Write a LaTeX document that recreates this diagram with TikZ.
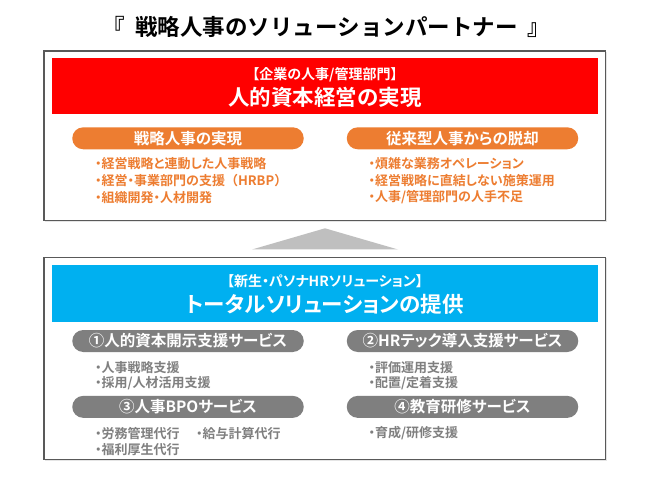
\documentclass[tikz,border=0pt]{standalone}
\usepackage{fontspec}
\setmainfont{Noto Sans CJK JP}[BoldFont={Noto Sans CJK JP Bold}, RawFeature=+palt]
\newfontfamily\jpfull{Noto Sans CJK JP}[BoldFont={Noto Sans CJK JP Bold}]
\usetikzlibrary{shadows}
\definecolor{rd}{HTML}{FF0000}
\definecolor{og}{HTML}{ED7D31}
\definecolor{cy}{HTML}{00B0F0}
\definecolor{gy}{HTML}{7F7F7F}
\definecolor{tri}{HTML}{BFBFBF}
\definecolor{frm}{HTML}{595959}
\newcommand\dt{\makebox[0.5em][c]{・}}
\tikzset{
  outerbox/.style={draw=frm, line width=1.2pt, fill=white, rectangle, inner sep=0,
    drop shadow={shadow xshift=1pt, shadow yshift=-1.2pt, fill=black!20}},
  banner/.style={rectangle, inner sep=0, draw=none},
  pillbox/.style={rectangle, rounded corners=11pt, inner sep=0, minimum width=231.5pt, minimum height=22pt, draw=none},
  bansmall/.style={inner sep=0, text=white, font=\bfseries\fontsize{14}{14}\selectfont},
  banbig/.style={inner sep=0, text=white, font=\bfseries\fontsize{21.5}{22}\selectfont},
  pilltxt/.style={inner sep=0, text=white, font=\bfseries\fontsize{15.5}{15}\selectfont},
  otxt/.style={inner sep=0, anchor=west, text=og, font=\bfseries\fontsize{13}{13}\selectfont},
  gtxt/.style={inner sep=0, anchor=west, text=gy, font=\bfseries\fontsize{13}{13}\selectfont},
}
\begin{document}
\begin{tikzpicture}[x=1pt,y=-1pt]
\useasboundingbox[fill=white] (0,0) rectangle (650,478);
% title
\node[inner sep=0, font=\jpfull\bfseries\fontsize{22.5}{22}\selectfont] (title) at (326.5,26.5) {『\hspace{0.45em}戦略人事のソリューションパートナー\hspace{0.45em}』};
% upper frame
\node[outerbox, minimum width=561.7pt, minimum height=169.5pt] (upper) at (324.85,135.75) {};
\node[banner, fill=rd, minimum width=545.5pt, minimum height=56.3pt] (red) at (324.75,85.85) {};
\node[bansmall] (redsub) at (325,74.5) {【企業の人事/管理部門】};
\node[banbig] (redmain) at (325,97.8) {人的資本経営の実現};
\node[pillbox, fill=og] (op1) at (188,138.3) {};
\node[pillbox, fill=og] (op2) at (462.5,138.3) {};
\node[pilltxt] (op1t) at (op1) {戦略人事の実現};
\node[pilltxt] (op2t) at (op2) {従来型人事からの脱却};
\node[otxt] (a1) at (95,163.5) {\dt 経営戦略と連動した人事戦略};
\node[otxt] (a2) at (95,181) {\dt 経営\dt 事業部門の支援{\jpfull（HRBP）}};
\node[otxt] (a3) at (95,197.5) {\dt 組織開発\dt 人材開発};
\node[otxt] (b1) at (368.5,163.5) {\dt 煩雑な業務オペレーション};
\node[otxt] (b2) at (368.5,181) {\dt 経営戦略に直結しない施策運用};
\node[otxt] (b3) at (368.5,197.5) {\dt 人事/管理部門の人手不足};
% triangle
\coordinate (tA) at (325,228.3);
\coordinate (tB) at (252,249.5);
\coordinate (tC) at (398,249.5);
\fill[tri] (tA) -- (tB) -- (tC) -- cycle;
% lower frame
\node[outerbox, minimum width=561.7pt, minimum height=202pt] (lower) at (324.85,358.3) {};
\node[banner, fill=cy, minimum width=545.5pt, minimum height=56.7pt] (cyan) at (324.75,293.35) {};
\node[bansmall] (cysub) at (325,281) {【新生\dt パソナHRソリューション】};
\node[banbig] (cymain) at (325,304.7) {トータルソリューションの提供};
\node[pillbox, fill=gy] (g1) at (188,341) {};
\node[pillbox, fill=gy] (g2) at (462.5,341) {};
\node[pillbox, fill=gy] (g3) at (188,406.85) {};
\node[pillbox, fill=gy] (g4) at (462.5,406.85) {};
\node[pilltxt] (g1t) at (g1) {①人的資本開示支援サービス};
\node[pilltxt] (g2t) at (g2) {②HRテック導入支援サービス};
\node[pilltxt] (g3t) at (g3) {③人事BPOサービス};
\node[pilltxt] (g4t) at (g4) {④教育研修サービス};
\node[gtxt] (c1) at (95,367.7) {\dt 人事戦略支援};
\node[gtxt] (c2) at (95,383.3) {\dt 採用/人材活用支援};
\node[gtxt] (d1) at (368.5,367.7) {\dt 評価運用支援};
\node[gtxt] (d2) at (368.5,383.3) {\dt 配置/定着支援};
\node[gtxt] (e1) at (95,433.3) {\dt 労務管理代行};
\node[gtxt] (e2) at (196,433.3) {\dt 給与計算代行};
\node[gtxt] (e3) at (95,449.3) {\dt 福利厚生代行};
\node[gtxt] (f1) at (368.5,433.3) {\dt 育成/研修支援};
\end{tikzpicture}
\end{document}
